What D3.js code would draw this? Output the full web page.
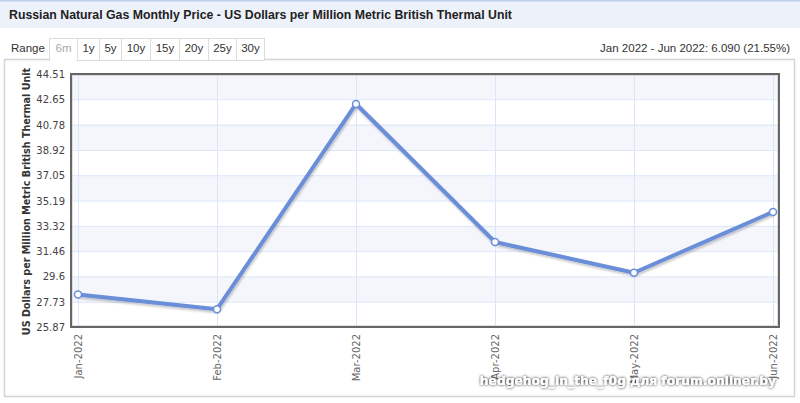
<!DOCTYPE html>
<html><head><meta charset="utf-8">
<script src="https://cdn.jsdelivr.net/npm/d3@7"></script>
<style>
body{margin:0;background:#fff;font-family:Arial,"Liberation Sans",sans-serif;}
svg{display:block;}
</style></head>
<body>
<svg id="c" width="800" height="403"></svg>
<script>
const title = "Russian Natural Gas Monthly Price - US Dollars per Million Metric British Thermal Unit";
const months = ["Jan-2022","Feb-2022","Mar-2022","Apr-2022","May-2022","Jun-2022"];
const prices = [28.26, 27.18, 42.30, 32.13, 29.87, 34.35];
const yTicks = [25.87, 27.73, 29.6, 31.46, 33.32, 35.19, 37.05, 38.92, 40.78, 42.65, 44.51];
const rangeButtons = ["6m","1y","5y","10y","15y","20y","25y","30y"];
const yTitle = "US Dollars per Million Metric British Thermal Unit";
const changeText = "Jan 2022 - Jun 2022: 6.090 (21.55%)";
const watermark = "hedgehog_in_the_f0g для forum.onliner.by";

const svg = d3.select("#c");
const defs = svg.append("defs");
const f = defs.append("filter").attr("id","sh").attr("x","-5%").attr("y","-5%").attr("width","110%").attr("height","120%");
f.append("feDropShadow").attr("dx",1).attr("dy",2).attr("stdDeviation",1.2).attr("flood-color","#000").attr("flood-opacity",0.22);
const wf = defs.append("filter").attr("id","wsh").attr("x","-5%").attr("y","-30%").attr("width","110%").attr("height","160%");
wf.append("feDropShadow").attr("dx",0).attr("dy",0).attr("stdDeviation",1.6).attr("flood-color","#000").attr("flood-opacity",0.95);

// title bar
svg.append("rect").attr("x",0).attr("y",0).attr("width",800).attr("height",28).attr("fill","#edf1fa");
svg.append("rect").attr("x",0).attr("y",0).attr("width",800).attr("height",1.5).attr("fill","#bfcfee");
svg.append("text").attr("x",9).attr("y",19).attr("font-size",12.3).attr("font-weight","bold").attr("fill","#222").text(title);

// container border
svg.append("rect").attr("x",4.5).attr("y",59.5).attr("width",790).attr("height",337).attr("fill","none").attr("stroke","#d4d4d4").attr("stroke-width",1.5);

// range selector
svg.append("text").attr("x",11).attr("y",52).attr("font-size",11.5).attr("fill","#333").text("Range");
const btnW = [28,22,22,29,29,29,28,28];
let bx = 49;
rangeButtons.forEach((b,i)=>{
  svg.append("rect").attr("x",bx+0.5).attr("y",38.5).attr("width",btnW[i]).attr("height",22).attr("fill","#fff").attr("stroke","#dcdcdc");
  svg.append("text").attr("x",bx+btnW[i]/2+0.5).attr("y",52).attr("text-anchor","middle").attr("font-size",11.5)
    .attr("fill", i===0 ? "#aaa" : "#333").text(b);
  bx += btnW[i];
});
svg.append("rect").attr("x",50).attr("y",58.5).attr("width",26).attr("height",3).attr("fill","#fff");
svg.append("text").attr("x",790).attr("y",52).attr("text-anchor","end").attr("font-size",11.5).attr("fill","#333").text(changeText);

// plot
const L=71, R=779, T=74, B=327;
const x = d3.scalePoint().domain(months).range([78,773]);
const y = d3.scaleLinear().domain([yTicks[0], yTicks[yTicks.length-1]]).range([B,T]);

// bands
for(let i=yTicks.length-1;i>0;i-=2){
  svg.append("rect").attr("x",L).attr("y",y(yTicks[i])).attr("width",R-L).attr("height",y(yTicks[i-1])-y(yTicks[i])).attr("fill","#f4f6fc");
}
// grid
svg.append("g").selectAll("line").data(yTicks.slice(1,-1)).join("line")
  .attr("x1",L).attr("x2",R).attr("y1",d=>y(d)+0.5).attr("y2",d=>y(d)+0.5).attr("stroke","#dbe6fa").attr("stroke-width",1);
svg.append("g").selectAll("line").data(months).join("line")
  .attr("x1",d=>Math.round(x(d))+0.5).attr("x2",d=>Math.round(x(d))+0.5).attr("y1",T).attr("y2",B).attr("stroke","#dbe6fa").attr("stroke-width",1);

// frame
svg.append("rect").attr("x",L).attr("y",T).attr("width",R-L).attr("height",B-T).attr("fill","none").attr("stroke","#666").attr("stroke-width",2);
svg.append("rect").attr("x",L+1.5).attr("y",T+1.5).attr("width",R-L-3).attr("height",B-T-3).attr("fill","none").attr("stroke","#ccc").attr("stroke-width",1).attr("opacity",0.6);

// y axis
const ya = d3.axisLeft(y).tickValues(yTicks).tickSize(0).tickPadding(5).tickFormat(d=>String(d));
const gy = svg.append("g").attr("transform",`translate(${L-1},0)`).call(ya);
gy.select(".domain").remove();
gy.selectAll("text").attr("font-family","'DejaVu Sans',Verdana,sans-serif").attr("font-size",10).attr("fill","#444").attr("dy","0.35em");

// x axis
const xa = d3.axisBottom(x).tickSize(0).tickPadding(0);
const gx = svg.append("g").attr("transform",`translate(0,${B})`).call(xa);
gx.select(".domain").remove();
gx.selectAll("text").attr("font-family","'DejaVu Sans',Verdana,sans-serif").attr("font-size",10).attr("fill","#666")
  .attr("text-anchor","end").attr("dy","0.35em").attr("transform","translate(0,7) rotate(-90)").attr("x",0).attr("y",0);

// y title
svg.append("text").attr("transform",`translate(30,${(T+B)/2+1}) rotate(-90)`).attr("text-anchor","middle")
  .attr("font-family","'DejaVu Sans',Verdana,sans-serif").attr("font-size",9.6).attr("font-weight","bold").attr("fill","#333").text(yTitle);

// line
const data = months.map((m,i)=>({m, v:prices[i]}));
svg.append("path").datum(data).attr("fill","none").attr("stroke","#6b8ed8").attr("stroke-width",4).attr("stroke-linejoin","round")
  .attr("filter","url(#sh)").attr("d", d3.line().x(d=>x(d.m)).y(d=>y(d.v)));
svg.append("g").selectAll("circle").data(data).join("circle")
  .attr("cx",d=>x(d.m)).attr("cy",d=>y(d.v)).attr("r",3.5).attr("fill","#fff").attr("stroke","#6b8ed8").attr("stroke-width",1.5);

// watermark
svg.append("text").attr("x",776).attr("y",385).attr("text-anchor","end").attr("font-family","'DejaVu Sans',Verdana,sans-serif")
  .attr("font-size",12.3).attr("font-weight","bold").attr("fill","#fff").attr("filter","url(#wsh)").text(watermark);
</script>
</body></html>
